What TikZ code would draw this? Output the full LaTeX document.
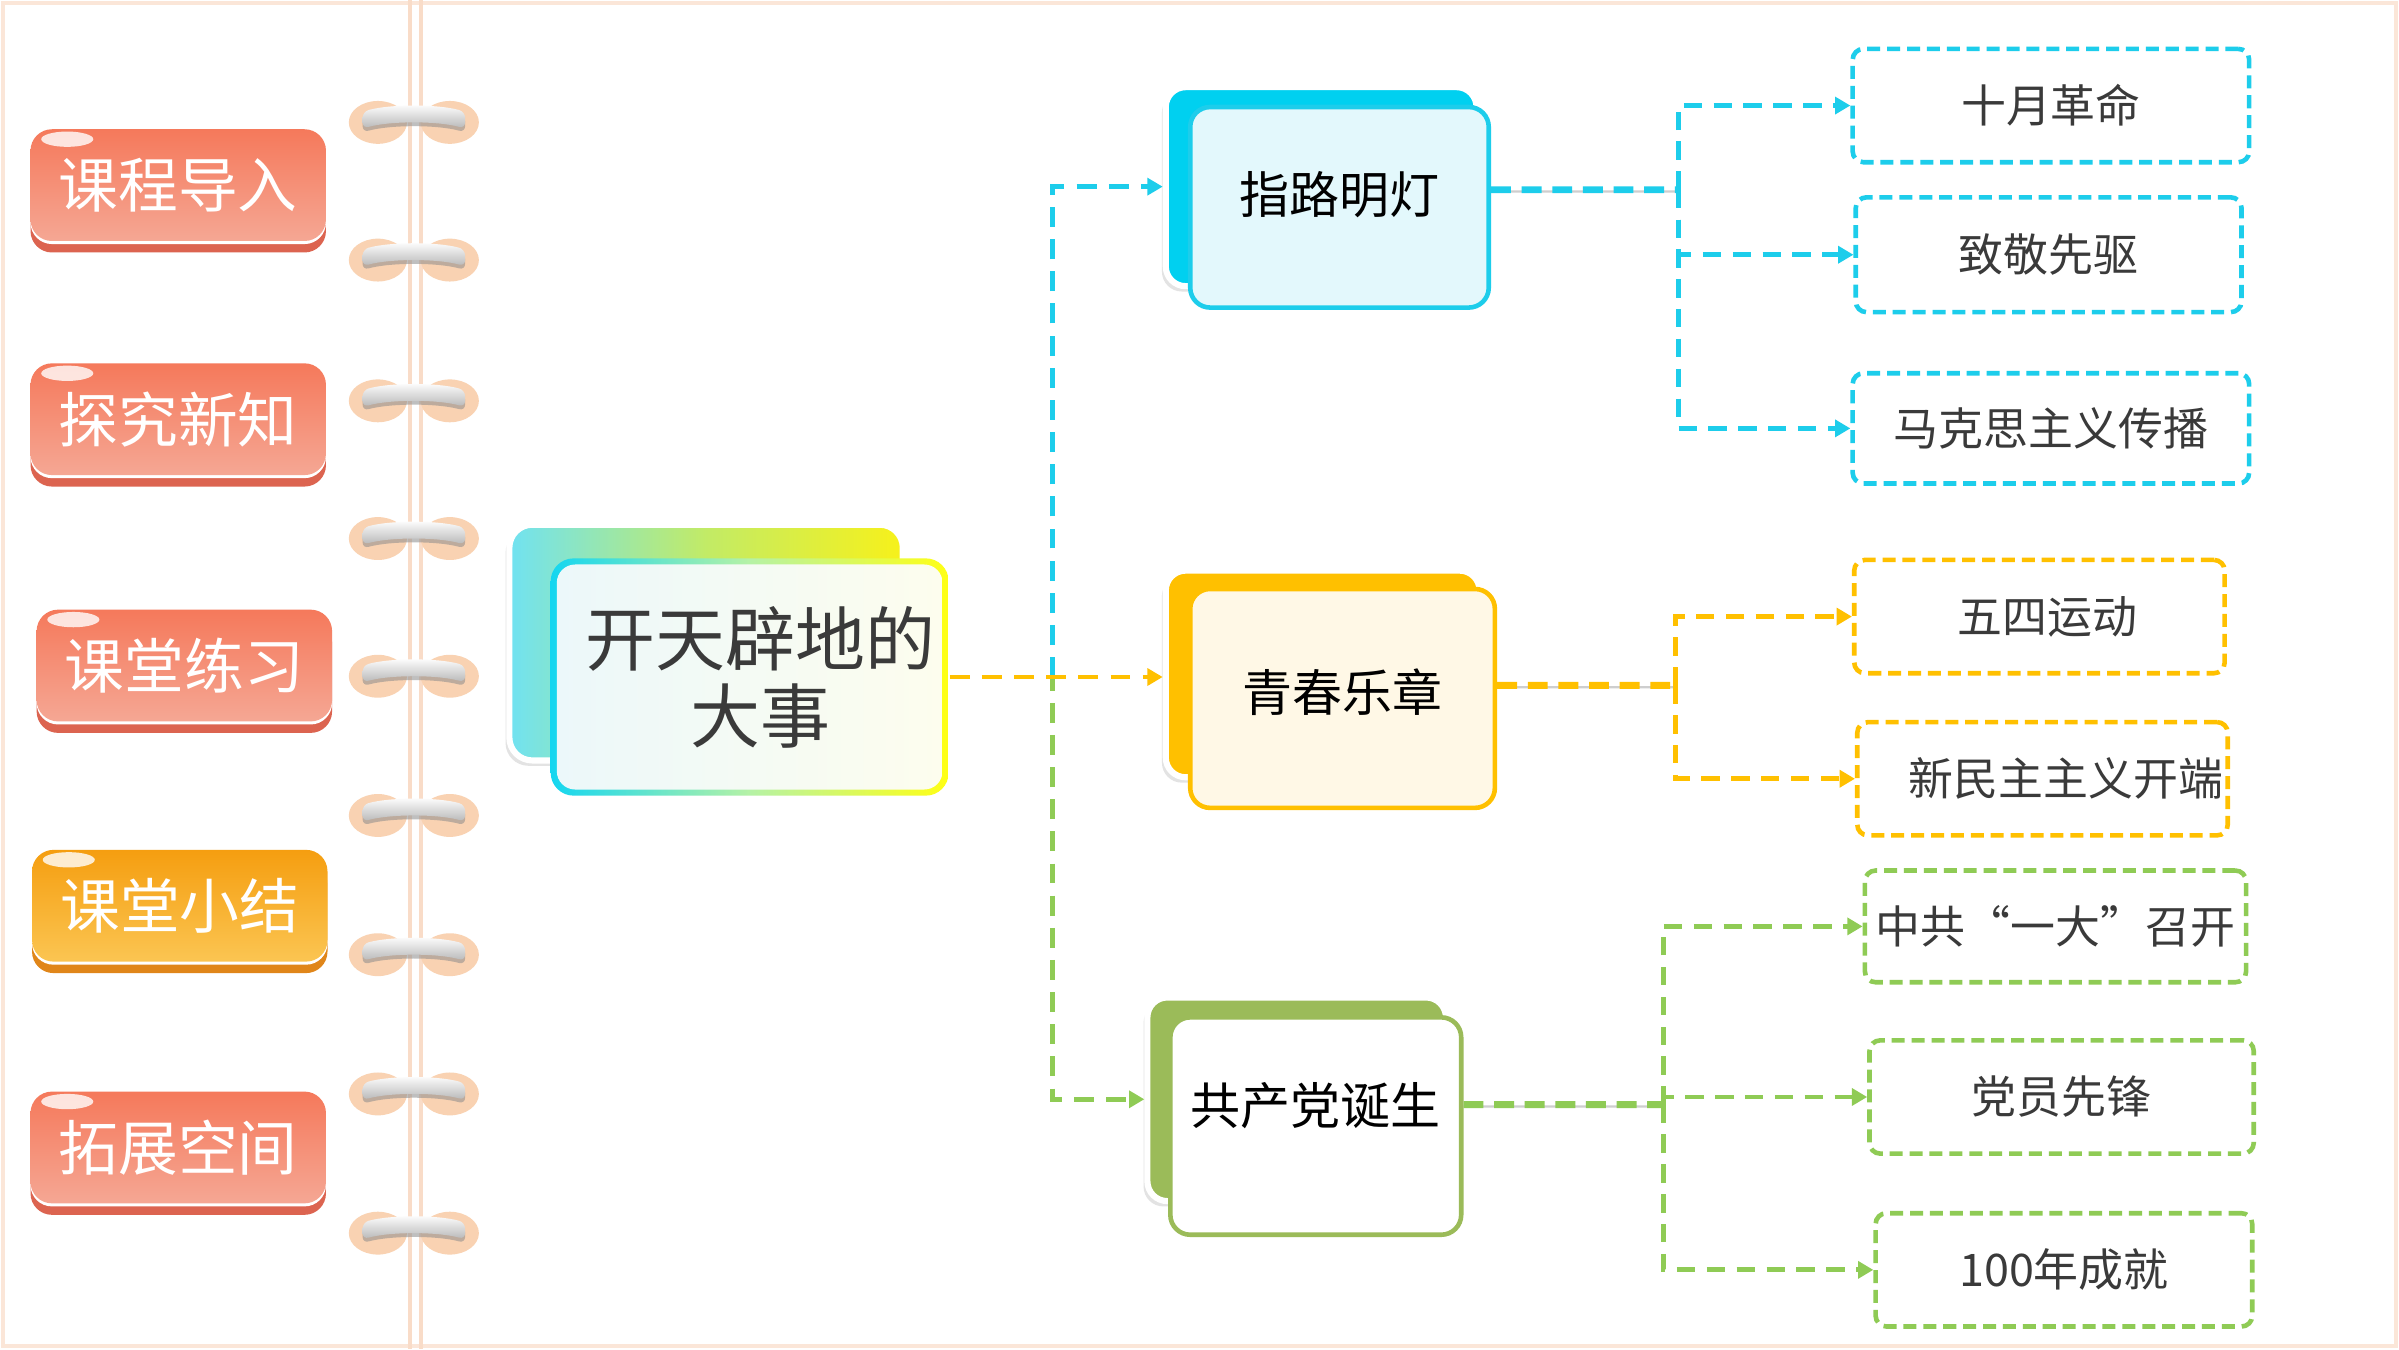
\documentclass[tikz,border=0pt]{standalone}
\usepackage{fontspec}
\setmainfont{Noto Sans CJK SC}
\newfontfamily\cjkfull[CharacterWidth=Full]{Noto Sans CJK SC}
\usetikzlibrary{arrows.meta,shadows}

\definecolor{frameC}{HTML}{FBE6D8}
\definecolor{spineC}{HTML}{F9DCC8}
\definecolor{ringC}{HTML}{F9D2B2}
\definecolor{btnTop}{HTML}{F5795B}
\definecolor{btnBot}{HTML}{F5A794}
\definecolor{btnRim}{HTML}{DC6450}
\definecolor{orTop}{HTML}{F59E10}
\definecolor{orBot}{HTML}{FBC552}
\definecolor{orRim}{HTML}{E0861A}
\definecolor{cyanC}{HTML}{1DCDEB}
\definecolor{cyanBack}{HTML}{00D0F0}
\definecolor{cyanFront}{HTML}{E3F8FC}
\definecolor{amberC}{HTML}{FFC000}
\definecolor{amberFront}{HTML}{FFF8E6}
\definecolor{greenC}{HTML}{9BBB59}
\definecolor{greenL}{HTML}{8FCB55}
\definecolor{txtC}{HTML}{3A3A3A}
\definecolor{cenL}{HTML}{70E2F2}
\definecolor{cenM}{HTML}{C2EB66}
\definecolor{cenR}{HTML}{F7F11A}
\definecolor{rimL}{HTML}{14D6F0}
\definecolor{rimM}{HTML}{B5F2A6}
\definecolor{rimR}{HTML}{FFFF14}
\definecolor{inL}{HTML}{ECF8FA}
\definecolor{inR}{HTML}{FDFDEE}

\begin{document}
\begin{tikzpicture}[x=0.01cm,y=-0.01cm,
  btnbase/.style={rectangle, rounded corners=0.14cm, minimum width=1.93cm,
    minimum height=0.73cm, text=white, font=\fontsize{11.1}{13}\selectfont,
    path picture={\fill[white,opacity=0.8]
      ([xshift=0.24cm,yshift=-0.065cm]path picture bounding box.north west)
      ellipse [x radius=0.17cm,y radius=0.05cm];}},
  menubtn/.style={btnbase,
    preaction={fill=btnRim, transform canvas={yshift=-0.075cm}},
    preaction={fill=white, transform canvas={yshift=-0.02cm}},
    top color=btnTop, bottom color=btnBot},
  menubtnor/.style={btnbase,
    preaction={fill=orRim, transform canvas={yshift=-0.075cm}},
    preaction={fill=white, transform canvas={yshift=-0.02cm}},
    top color=orTop, bottom color=orBot},
  backbox/.style={rectangle, rounded corners=0.13cm, draw=white, line width=0.04cm,
    drop shadow={shadow xshift=-0.025cm, shadow yshift=-0.035cm, opacity=0.22}},
  frontbox/.style={rectangle, rounded corners=0.13cm, line width=0.03cm,
    font=\fontsize{9.3}{11}\selectfont, text=black},
  leaf/.style={rectangle, rounded corners=0.07cm, line width=0.03cm,
    dash pattern=on 0.085cm off 0.045cm, text=txtC,
    font=\fontsize{8.35}{10}\selectfont, inner sep=0pt},
  conn/.style={line width=0.032cm, dash pattern=on 0.13cm off 0.08cm,
    -{Triangle[length=0.1cm,width=0.11cm]}},
  hubconn/.style={line width=0.045cm, dash pattern=on 0.13cm off 0.07cm,
    preaction={draw=black!55, opacity=0.35, transform canvas={yshift=-0.012cm}}},
  brconn/.style={line width=0.032cm, dash pattern=on 0.12cm off 0.075cm,
    -{Triangle[length=0.1cm,width=0.11cm]}}
]
\useasboundingbox (0,0) rectangle (1568,882);
\fill[white] (0,0) rectangle (1568,882);
\draw[frameC, line width=0.025cm] (2,2) rectangle (1566,880);

% spine
\draw[spineC, line width=0.028cm] (268,0) -- (268,882);
\draw[spineC, line width=0.028cm] (275,0) -- (275,882);

% rings
\foreach \r in {78,168,260,350,440,531,622,713,804}{
  \fill[ringC] (247,\r+2) ellipse [x radius=0.19cm, y radius=0.14cm];
  \fill[ringC] (294,\r+2) ellipse [x radius=0.19cm, y radius=0.14cm];
  \fill[black!45, opacity=0.55, rounded corners=0.04cm, shift={(0,2.5)}]
    (237,\r-5) .. controls (255,\r-10) and (286,\r-10) .. (304,\r-5)
    -- (304,\r+6) .. controls (286,\r+1) and (255,\r+1) .. (237,\r+6) -- cycle;
  \shade[top color=white, bottom color=black!28, rounded corners=0.04cm]
    (237,\r-5) .. controls (255,\r-10) and (286,\r-10) .. (304,\r-5)
    -- (304,\r+6) .. controls (286,\r+1) and (255,\r+1) .. (237,\r+6) -- cycle;
}

% menu buttons
\node[menubtn] (b1) at (116.5,121) {课程导入};
\node[menubtn] (b2) at (116.5,274) {探究新知};
\node[menubtn] (b3) at (120.5,435) {课堂练习};
\node[menubtnor] (b4) at (117.5,592) {课堂小结};
\node[menubtn] (b5) at (116.5,750) {拓展空间};

% central topic
\node[rectangle, rounded corners=0.15cm, draw=white, line width=0.04cm,
  drop shadow={shadow xshift=-0.025cm, shadow yshift=-0.035cm, opacity=0.22},
  left color=cenL, right color=cenR, middle color=cenM,
  minimum width=2.57cm, minimum height=1.54cm] (cB) at (461.5,420) {};
\node[rectangle, rounded corners=0.15cm, left color=rimL, right color=rimR,
  middle color=rimM, minimum width=2.60cm, minimum height=1.55cm] (cR) at (490,442.5) {};
\node[rectangle, rounded corners=0.12cm, left color=inL, right color=inR,
  minimum width=2.52cm, minimum height=1.47cm, inner sep=0pt, align=center, text=txtC,
  font=\fontsize{13}{14.3}\selectfont] (c) at (490,442.5)
  {\hspace*{0.14cm}开天辟地的\\\hspace*{0.14cm}大事};

% hubs
\node[backbox, fill=cyanBack, minimum width=2.03cm, minimum height=1.30cm] (zlB) at (863.5,122) {};
\node[frontbox, draw=cyanC, fill=cyanFront, minimum width=1.95cm, minimum height=1.31cm,
  text depth=0.19cm] (zlF) at (875.5,135.5) {指路明灯};

\node[backbox, fill=amberC, minimum width=2.05cm, minimum height=1.35cm] (qcB) at (864.5,440.5) {};
\node[frontbox, draw=amberC, fill=amberFront, minimum width=1.99cm, minimum height=1.43cm,
  text depth=0.11cm] (qcF) at (877.5,456.5) {青春乐章};

\node[backbox, fill=greenC, minimum width=1.95cm, minimum height=1.33cm] (gcB) at (847.5,718.5) {};
\node[frontbox, draw=greenC, fill=white, minimum width=1.90cm, minimum height=1.42cm,
  text depth=0.30cm] (gcF) at (860,736) {共产党诞生};

% leaves
\node[leaf, draw=cyanC, minimum width=2.59cm, minimum height=0.74cm] (l1) at (1340.5,69) {十月革命};
\node[leaf, draw=cyanC, minimum width=2.52cm, minimum height=0.75cm] (l2) at (1339,166.5) {致敬先驱};
\node[leaf, draw=cyanC, minimum width=2.59cm, minimum height=0.72cm] (l3) at (1340.5,280) {马克思主义传播};
\node[leaf, draw=amberC, minimum width=2.42cm, minimum height=0.74cm] (l4) at (1333,403) {\hspace*{0.1cm}五四运动};
\node[leaf, draw=amberC, minimum width=2.42cm, minimum height=0.74cm, align=right,
  text width=2.36cm] (l5) at (1335,509) {新民主主义开端};
\node[leaf, draw=greenL, minimum width=2.49cm, minimum height=0.73cm] (l6) at (1343.5,605.5) {中共{\cjkfull “}一大{\cjkfull ”}召开};
\node[leaf, draw=greenL, minimum width=2.51cm, minimum height=0.74cm] (l7) at (1347.5,717) {党员先锋};
\node[leaf, draw=greenL, minimum width=2.46cm, minimum height=0.74cm] (l8) at (1349,830) {100年成就};

% connectors from central topic
\coordinate (jc) at (688,442.5);
\draw[conn, cyanC] (jc) |- (zlB.west);
\draw[conn, greenL] (cR.east) -- (jc) |- (gcB.west);
\draw[conn, amberC] (cR.east) -- (cR.east -| qcB.west);

% hub 1
\coordinate (j1) at (1097,124);
\draw[hubconn, cyanC] ([yshift=0.115cm]zlF.east) -- (j1);
\draw[brconn, cyanC] (j1) |- (l1.west);
\draw[brconn, cyanC] (j1) |- (l2.west);
\draw[brconn, cyanC] (j1) |- (l3.west);

% hub 2
\coordinate (j2) at (1095,448);
\draw[hubconn, amberC] ([yshift=0.085cm]qcF.east) -- (j2);
\draw[brconn, amberC] (j2) |- (l4.west);
\draw[brconn, amberC] (j2) |- (l5.west);

% hub 3
\coordinate (j3) at (1087,722);
\draw[hubconn, greenL] ([yshift=0.14cm]gcF.east) -- (j3);
\draw[brconn, greenL] (j3) |- (l6.west);
\draw[brconn, greenL] (j3) |- (l7.west);
\draw[brconn, greenL] (j3) |- (l8.west);
\end{tikzpicture}
\end{document}
